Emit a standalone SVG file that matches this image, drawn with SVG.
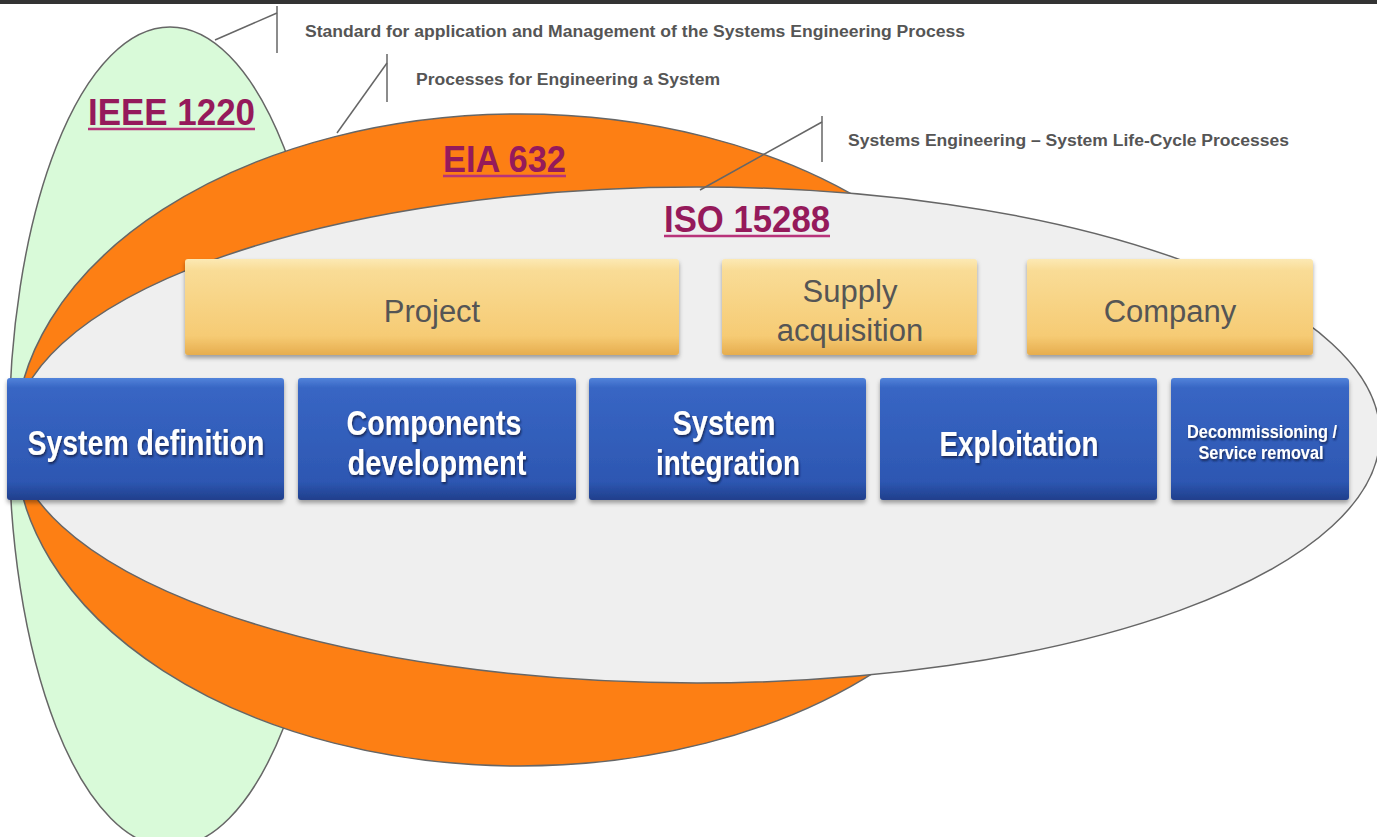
<svg xmlns="http://www.w3.org/2000/svg" width="1377" height="837" viewBox="0 0 1377 837">
<defs>
<linearGradient id="gold" x1="0" y1="0" x2="0" y2="1">
<stop offset="0" stop-color="#fce9b4"/>
<stop offset="0.12" stop-color="#f9dc96"/>
<stop offset="0.8" stop-color="#f6cb74"/>
<stop offset="1" stop-color="#e6ad4e"/>
</linearGradient>
<linearGradient id="blue" x1="0" y1="0" x2="0" y2="1">
<stop offset="0" stop-color="#5283da"/>
<stop offset="0.08" stop-color="#3866c4"/>
<stop offset="0.85" stop-color="#2d57b2"/>
<stop offset="1" stop-color="#203f8c"/>
</linearGradient>
<filter id="shadow" x="-5%" y="-10%" width="110%" height="130%">
<feDropShadow dx="0" dy="3" stdDeviation="2" flood-color="#000" flood-opacity="0.35"/>
</filter>
<filter id="tshadow" x="-5%" y="-20%" width="110%" height="150%">
<feDropShadow dx="1" dy="2" stdDeviation="1" flood-color="#0a1a40" flood-opacity="0.8"/>
</filter>
<style>
.ell{stroke:#666;stroke-width:1.5}
.callout{fill:none;stroke:#666;stroke-width:1.5}
.ctext{font-family:"Liberation Sans",Arial,sans-serif;font-weight:bold;font-size:16px;fill:#555}
.label{font-family:"Liberation Sans",Arial,sans-serif;font-weight:bold;font-size:37px;fill:#951a5b}
.uline{stroke:#b8337a;stroke-width:2.5}
.gold{fill:url(#gold);filter:url(#shadow)}
.blue{fill:url(#blue);filter:url(#shadow)}
.gtext{font-family:"Liberation Sans",Arial,sans-serif;font-size:31px;fill:#555;text-anchor:middle}
.btext{font-family:"Liberation Sans",Arial,sans-serif;font-weight:bold;font-size:35px;fill:#fff;text-anchor:middle;filter:url(#tshadow)}
.stext{font-family:"Liberation Sans",Arial,sans-serif;font-weight:bold;font-size:18px;fill:#fff;text-anchor:middle;filter:url(#tshadow)}
</style>
</defs>
<rect x="0" y="0" width="1377" height="837" fill="#fff"/>
<rect x="0" y="0" width="1377" height="4" fill="#333"/>

<g id="ieee1220">
<ellipse class="ell" cx="170" cy="437" rx="161" ry="410" fill="#d9fad9"/>
<text class="label" x="88" y="125" textLength="167" lengthAdjust="spacingAndGlyphs">IEEE 1220</text>
<line class="uline" x1="88" y1="129" x2="255" y2="129"/>
</g>

<g id="eia632">
<ellipse class="ell" cx="520" cy="440" rx="505" ry="326" fill="#fd7f14"/>
<text class="label" x="443" y="172" textLength="123" lengthAdjust="spacingAndGlyphs">EIA 632</text>
<line class="uline" x1="443" y1="176" x2="566" y2="176"/>
</g>

<g id="iso15288">
<ellipse class="ell" cx="697" cy="435" rx="683" ry="248" fill="#efefef"/>
<text class="label" x="664" y="232" textLength="166" lengthAdjust="spacingAndGlyphs">ISO 15288</text>
<line class="uline" x1="664" y1="236" x2="830" y2="236"/>
</g>

<g id="connectors">
<polyline class="callout" points="215,40 277,13"/>
<line class="callout" x1="277" y1="6" x2="277" y2="53"/>
<polyline class="callout" points="337,133 387,63"/>
<line class="callout" x1="387" y1="54" x2="387" y2="102"/>
<polyline class="callout" points="700,190 822,122"/>
<line class="callout" x1="822" y1="116" x2="822" y2="162"/>
</g>

<g id="callout-texts">
<text class="ctext" x="305" y="37" textLength="660" lengthAdjust="spacingAndGlyphs">Standard for application and Management of the Systems Engineering Process</text>
<text class="ctext" x="416" y="85" textLength="304" lengthAdjust="spacingAndGlyphs">Processes for Engineering a System</text>
<text class="ctext" x="848" y="146" textLength="441" lengthAdjust="spacingAndGlyphs">Systems Engineering – System Life-Cycle Processes</text>
</g>

<g id="project">
<rect class="gold" x="185" y="259" width="494" height="96" rx="3"/>
<text class="gtext" x="432" y="322">Project</text>
</g>
<g id="supply">
<rect class="gold" x="722" y="259" width="255" height="96" rx="3"/>
<text class="gtext" x="850" y="302">Supply</text>
<text class="gtext" x="850" y="341">acquisition</text>
</g>
<g id="company">
<rect class="gold" x="1027" y="259" width="286" height="96" rx="3"/>
<text class="gtext" x="1170" y="322">Company</text>
</g>

<g id="system-definition">
<rect class="blue" x="7" y="378" width="277" height="122" rx="3"/>
<text class="btext" x="146" y="455" textLength="237" lengthAdjust="spacingAndGlyphs">System definition</text>
</g>
<g id="components-development">
<rect class="blue" x="298" y="378" width="278" height="122" rx="3"/>
<text class="btext" x="434" y="435" textLength="175" lengthAdjust="spacingAndGlyphs">Components</text>
<text class="btext" x="437" y="475" textLength="179" lengthAdjust="spacingAndGlyphs">development</text>
</g>
<g id="system-integration">
<rect class="blue" x="589" y="378" width="277" height="122" rx="3"/>
<text class="btext" x="724" y="435" textLength="103" lengthAdjust="spacingAndGlyphs">System</text>
<text class="btext" x="728" y="475" textLength="144" lengthAdjust="spacingAndGlyphs">integration</text>
</g>
<g id="exploitation">
<rect class="blue" x="880" y="378" width="277" height="122" rx="3"/>
<text class="btext" x="1019" y="456" textLength="159" lengthAdjust="spacingAndGlyphs">Exploitation</text>
</g>
<g id="decommissioning">
<rect class="blue" x="1171" y="378" width="178" height="122" rx="3"/>
<text class="stext" x="1262" y="438" textLength="150" lengthAdjust="spacingAndGlyphs">Decommissioning /</text>
<text class="stext" x="1261" y="459" textLength="125" lengthAdjust="spacingAndGlyphs">Service removal</text>
</g>
</svg>
